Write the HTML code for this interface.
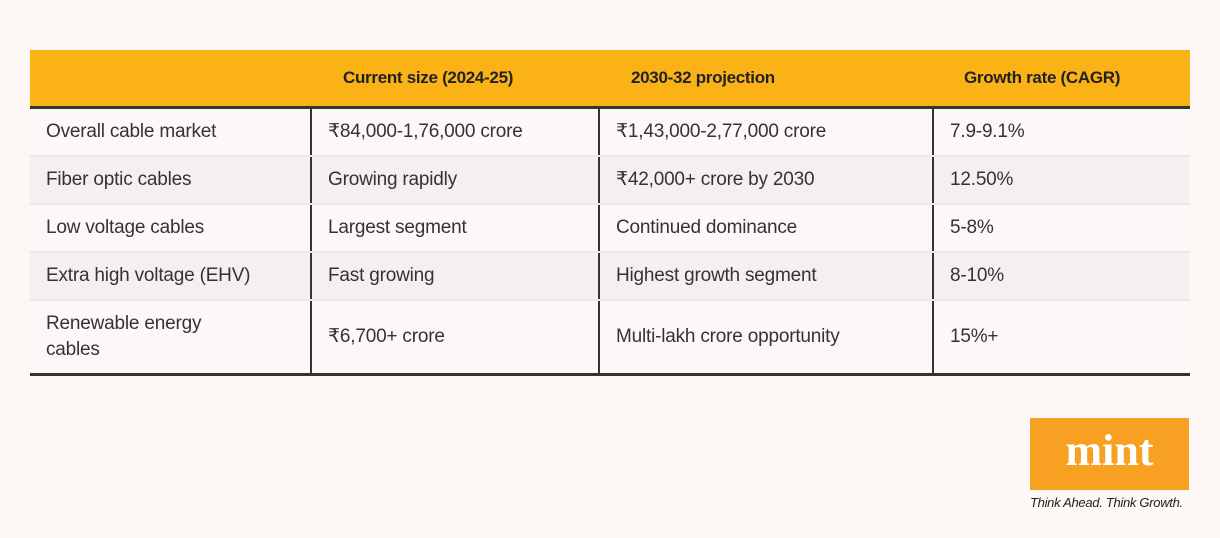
<!DOCTYPE html>
<html><head><meta charset="utf-8"><style>
body{margin:0;width:1220px;height:538px;background:#fdf7f6;font-family:"Liberation Sans",sans-serif;position:relative;overflow:hidden}
.hdr{position:absolute;left:30px;top:50px;width:1160px;height:56px;background:#fbb217}
.hdr div{position:absolute;top:0;line-height:56px;font-weight:bold;font-size:17px;color:#222;letter-spacing:-0.3px}
table{position:absolute;left:30px;top:106px;width:1160px;border-collapse:collapse;border-top:3px solid #333;border-bottom:3px solid #333}
td{font-size:19px;color:#333;padding:0 0 0 16px;border-left:2px solid #333;border-bottom:2px solid #ebe6e5;height:46px;vertical-align:middle;line-height:26px;letter-spacing:-0.2px}
td:first-child{border-left:none}
tr:nth-child(even) td{background:#f5f0ef}
tr:nth-child(odd) td{background:#fdf8f7}
tr:last-child td{height:72px;border-bottom:none}
.logo{position:absolute;left:1030px;top:418px;width:159px;height:72px;background:#f7a021;color:#fff;font-family:"Liberation Serif",serif;font-weight:bold;font-size:44px;text-align:center;line-height:66px}
.tag{position:absolute;left:1030px;top:495px;font-size:13px;font-style:italic;color:#222;letter-spacing:-0.3px}
</style></head><body>
<div class="hdr">
<div style="left:313px">Current size (2024-25)</div>
<div style="left:601px">2030-32 projection</div>
<div style="left:934px">Growth rate (CAGR)</div>
</div>
<table>
<colgroup><col style="width:281px"><col style="width:288px"><col style="width:334px"><col></colgroup>
<tr><td>Overall cable market</td><td>₹84,000-1,76,000 crore</td><td>₹1,43,000-2,77,000 crore</td><td>7.9-9.1%</td></tr>
<tr><td>Fiber optic cables</td><td>Growing rapidly</td><td>₹42,000+ crore by 2030</td><td>12.50%</td></tr>
<tr><td>Low voltage cables</td><td>Largest segment</td><td>Continued dominance</td><td>5-8%</td></tr>
<tr><td>Extra high voltage (EHV)</td><td>Fast growing</td><td>Highest growth segment</td><td>8-10%</td></tr>
<tr><td>Renewable energy<br>cables</td><td>₹6,700+ crore</td><td>Multi-lakh crore opportunity</td><td>15%+</td></tr>
</table>
<div class="logo">mint</div>
<div class="tag">Think Ahead. Think Growth.</div>
</body></html>
